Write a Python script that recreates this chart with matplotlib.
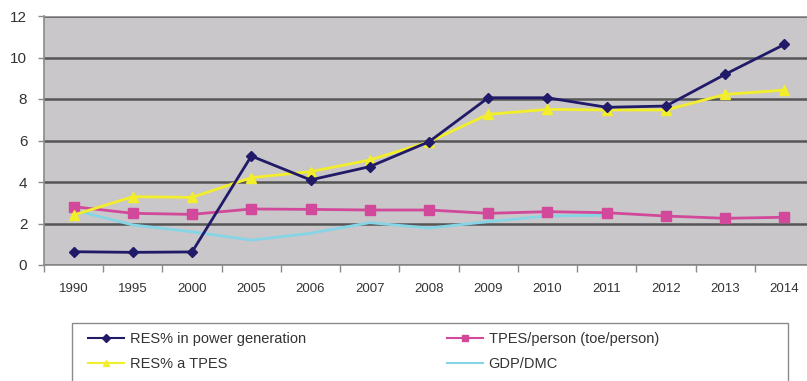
import matplotlib
matplotlib.use("Agg")
import matplotlib.pyplot as plt
from matplotlib.lines import Line2D
from matplotlib.patches import Rectangle

plt.rcParams['font.family'] = ['Liberation Sans Narrow', 'Liberation Sans', 'DejaVu Sans']

years = ["1990", "1995", "2000", "2005", "2006", "2007", "2008",
         "2009", "2010", "2011", "2012", "2013", "2014"]

res_power = [0.64, 0.61, 0.63, 5.25, 4.1, 4.74, 5.94, 8.06, 8.06, 7.6, 7.66, 9.19, 10.63]
res_tpes = [2.41, 3.29, 3.26, 4.21, 4.5, 5.06, 5.94, 7.26, 7.5, 7.47, 7.47, 8.22, 8.43]
tpes_person = [2.81, 2.49, 2.44, 2.7, 2.68, 2.65, 2.65, 2.49, 2.57, 2.52, 2.36, 2.25, 2.3]
gdp_dmc = [2.65, 1.93, 1.6, 1.2, 1.53, 2.04, 1.78, 2.09, 2.36, 2.4]

y_ticks = [0, 2, 4, 6, 8, 10, 12]

c_blue = "#201a68"
c_yellow = "#f2ee2c"
c_pink = "#d2489a"
c_cyan = "#86d5e6"
c_bg = "#c9c7c9"
c_grid = "#555555"
c_text = "#333333"

W, H = 807, 381
fig = plt.figure(figsize=(W / 100, H / 100), dpi=100)
ax = fig.add_axes([44 / W, 1 - 265 / H, 770 / W, 249 / H])
ax.set_facecolor(c_bg)

x = list(range(len(years)))
x_gdp = x[:len(gdp_dmc)]

ax.plot(x_gdp, gdp_dmc, color=c_cyan, lw=2.0, zorder=3)
ax.plot(x, tpes_person, color=c_pink, lw=2.0, marker="s", ms=7, mec=c_pink, zorder=4)
ax.plot(x, res_tpes, color=c_yellow, lw=2.0, marker="^", ms=7, mec=c_yellow, zorder=5)
ax.plot(x, res_power, color=c_blue, lw=2.0, marker="D", ms=5.5, mec=c_blue, zorder=6)

ax.set_xlim(-0.5, len(years) - 0.5)
ax.set_ylim(0, 12)
ax.set_yticks(y_ticks)
ax.yaxis.grid(True, color=c_grid, lw=1.8)
ax.set_axisbelow(True)

ax.set_xticks(x)
ax.set_xticklabels(years)
ax.set_xticks([i - 0.5 for i in range(len(years) + 1)], minor=True)
ax.tick_params(axis="x", which="major", length=0, pad=13, labelsize=9.5, labelcolor=c_text)
ax.tick_params(axis="x", which="minor", length=5, width=1, color="#8a8a8a")
ax.tick_params(axis="y", length=4, width=1, color="#8a8a8a", pad=8, labelsize=11,
               labelcolor=c_text)

for side in ("top", "right"):
    ax.spines[side].set_visible(False)
for side in ("left", "bottom"):
    ax.spines[side].set_color("#8a8a8a")
    ax.spines[side].set_linewidth(1.2)
ax.axhline(12, color="#a8a8a8", lw=1.2, zorder=1)

# Legend frame, running off the bottom edge of the figure
fig.patches.append(Rectangle((72 / W, -0.05), 716 / W, 0.05 + 1 - 323 / H,
                             transform=fig.transFigure, fill=False,
                             edgecolor="#8a8a8a", lw=1.0))

h_blue = Line2D([], [], color=c_blue, lw=1.5, marker="D", ms=4, mec=c_blue)
h_yellow = Line2D([], [], color=c_yellow, lw=1.5, marker="^", ms=5, mec=c_yellow)
h_pink = Line2D([], [], color=c_pink, lw=1.5, marker="s", ms=5, mec=c_pink)
h_cyan = Line2D([], [], color=c_cyan, lw=1.5)

leg_kw = dict(loc="upper left", frameon=False, fontsize=10.5, handlelength=2.5,
              handletextpad=0.35, borderpad=0, labelspacing=0.75, borderaxespad=0)
leg1 = fig.legend([h_blue, h_yellow], ["RES% in power generation", "RES% a TPES"],
                  bbox_to_anchor=(88 / W, 1 - 332 / H), **leg_kw)
leg2 = fig.legend([h_pink, h_cyan], ["TPES/person (toe/person)", "GDP/DMC"],
                  bbox_to_anchor=(447 / W, 1 - 332 / H), **leg_kw)
for leg in (leg1, leg2):
    for t in leg.get_texts():
        t.set_color(c_text)

fig.savefig("out.png", dpi=100)
